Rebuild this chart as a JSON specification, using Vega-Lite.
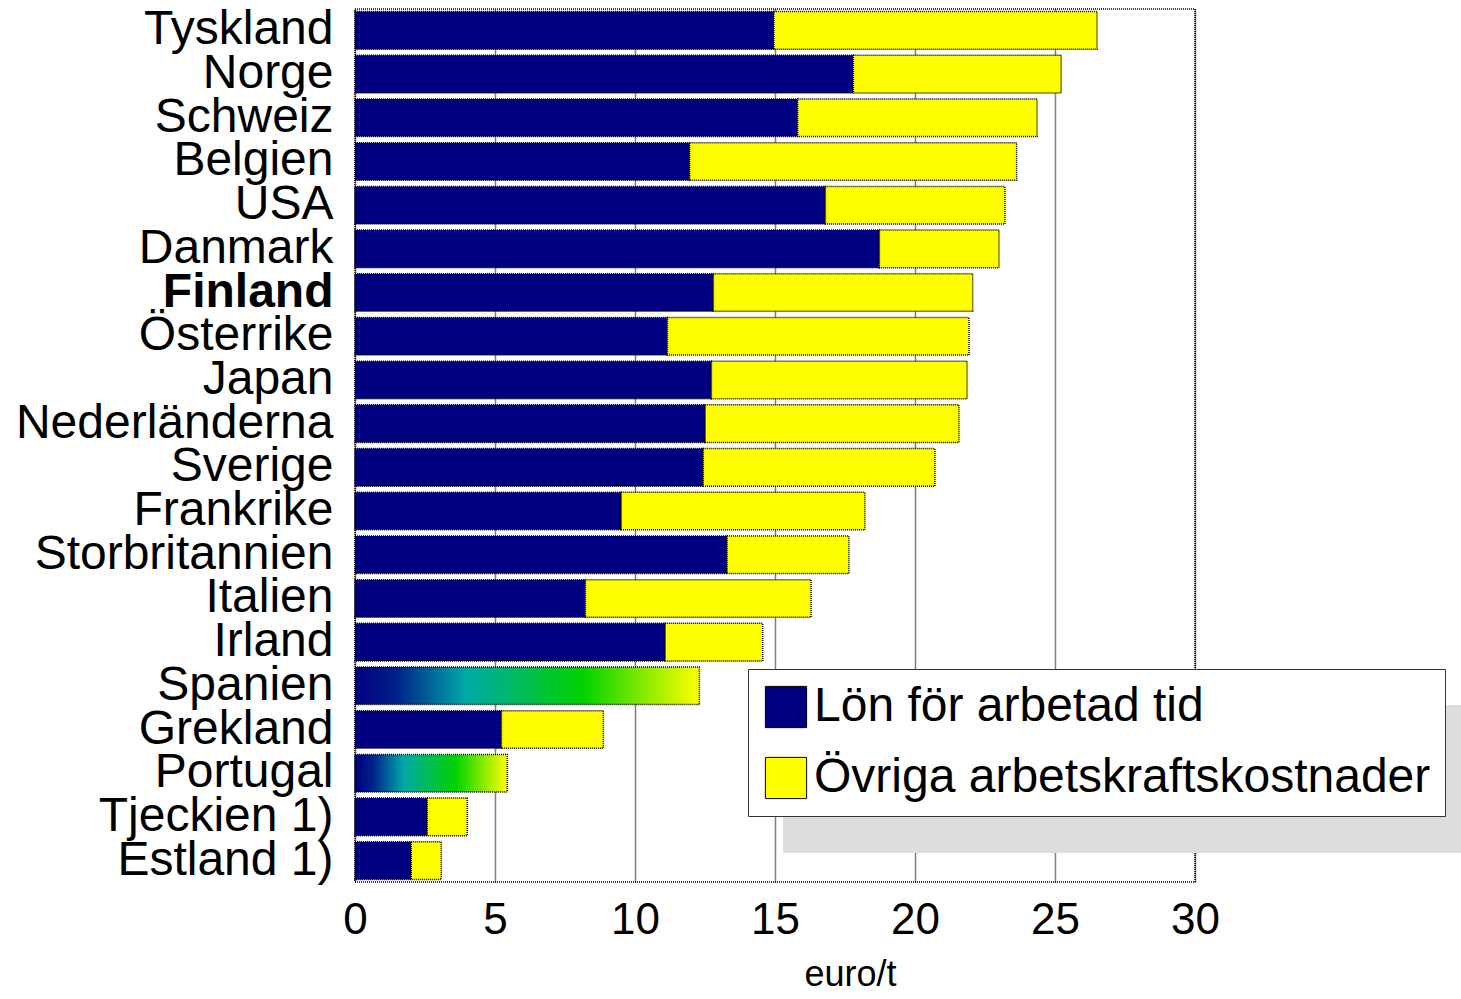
{
  "$schema": "https://vega.github.io/schema/vega-lite/v6.json",
  "width": 840,
  "height": 873,
  "autosize": {"type": "none"},
  "padding": {"left": 355, "top": 9, "right": 266, "bottom": 117},
  "background": "white",
  "config": {
    "font": "Liberation Sans",
    "view": {"stroke": "#000", "strokeDash": [1, 1], "strokeWidth": 1.5},
    "legend": {
      "title": null,
      "orient": "none",
      "labelFont": "Liberation Sans",
      "labelFontSize": 48,
      "labelLimit": 1000,
      "labelOffset": 4,
      "padding": 14,
      "rowPadding": 23,
      "symbolType": "square",
      "symbolSize": 1700
    }
  },
  "datasets": {
    "kostnader": [
      {"land": "Tyskland", "typ": "Lön för arbetad tid", "varde": 14.96},
      {"land": "Tyskland", "typ": "Övriga arbetskraftskostnader", "varde": 11.54},
      {"land": "Norge", "typ": "Lön för arbetad tid", "varde": 17.8},
      {"land": "Norge", "typ": "Övriga arbetskraftskostnader", "varde": 7.42},
      {"land": "Schweiz", "typ": "Lön för arbetad tid", "varde": 15.81},
      {"land": "Schweiz", "typ": "Övriga arbetskraftskostnader", "varde": 8.55},
      {"land": "Belgien", "typ": "Lön för arbetad tid", "varde": 11.95},
      {"land": "Belgien", "typ": "Övriga arbetskraftskostnader", "varde": 11.68},
      {"land": "USA", "typ": "Lön för arbetad tid", "varde": 16.8},
      {"land": "USA", "typ": "Övriga arbetskraftskostnader", "varde": 6.41},
      {"land": "Danmark", "typ": "Lön för arbetad tid", "varde": 18.73},
      {"land": "Danmark", "typ": "Övriga arbetskraftskostnader", "varde": 4.27},
      {"land": "Finland", "typ": "Lön för arbetad tid", "varde": 12.8},
      {"land": "Finland", "typ": "Övriga arbetskraftskostnader", "varde": 9.26},
      {"land": "Österrike", "typ": "Lön för arbetad tid", "varde": 11.16},
      {"land": "Österrike", "typ": "Övriga arbetskraftskostnader", "varde": 10.77},
      {"land": "Japan", "typ": "Lön för arbetad tid", "varde": 12.73},
      {"land": "Japan", "typ": "Övriga arbetskraftskostnader", "varde": 9.13},
      {"land": "Nederländerna", "typ": "Lön för arbetad tid", "varde": 12.51},
      {"land": "Nederländerna", "typ": "Övriga arbetskraftskostnader", "varde": 9.06},
      {"land": "Sverige", "typ": "Lön för arbetad tid", "varde": 12.44},
      {"land": "Sverige", "typ": "Övriga arbetskraftskostnader", "varde": 8.27},
      {"land": "Frankrike", "typ": "Lön för arbetad tid", "varde": 9.51},
      {"land": "Frankrike", "typ": "Övriga arbetskraftskostnader", "varde": 8.7},
      {"land": "Storbritannien", "typ": "Lön för arbetad tid", "varde": 13.29},
      {"land": "Storbritannien", "typ": "Övriga arbetskraftskostnader", "varde": 4.35},
      {"land": "Italien", "typ": "Lön för arbetad tid", "varde": 8.23},
      {"land": "Italien", "typ": "Övriga arbetskraftskostnader", "varde": 8.06},
      {"land": "Irland", "typ": "Lön för arbetad tid", "varde": 11.08},
      {"land": "Irland", "typ": "Övriga arbetskraftskostnader", "varde": 3.48},
      {"land": "Spanien", "typ": "Totalt", "varde": 12.3},
      {"land": "Grekland", "typ": "Lön för arbetad tid", "varde": 5.23},
      {"land": "Grekland", "typ": "Övriga arbetskraftskostnader", "varde": 3.64},
      {"land": "Portugal", "typ": "Totalt", "varde": 5.44},
      {"land": "Tjeckien 1)", "typ": "Lön för arbetad tid", "varde": 2.58},
      {"land": "Tjeckien 1)", "typ": "Övriga arbetskraftskostnader", "varde": 1.43},
      {"land": "Estland 1)", "typ": "Lön för arbetad tid", "varde": 2.01},
      {"land": "Estland 1)", "typ": "Övriga arbetskraftskostnader", "varde": 1.07}
    ]
  },
  "data": {"name": "kostnader"},
  "encoding": {
    "y": {
      "field": "land",
      "type": "nominal",
      "scale": {
        "domain": ["Tyskland", "Norge", "Schweiz", "Belgien", "USA", "Danmark", "Finland", "Österrike", "Japan", "Nederländerna", "Sverige", "Frankrike", "Storbritannien", "Italien", "Irland", "Spanien", "Grekland", "Portugal", "Tjeckien 1)", "Estland 1)"],
        "paddingInner": 0.14,
        "paddingOuter": 0.06
      },
      "axis": {
        "title": null,
        "domain": false,
        "ticks": false,
        "labelFont": "Liberation Sans",
        "labelFontSize": 48,
        "labelColor": "#000",
        "labelPadding": 22,
        "labelLimit": 400,
        "labelFontWeight": {"condition": {"test": "datum.value === 'Finland'", "value": "bold"}, "value": "normal"}
      }
    },
    "x": {
      "field": "varde",
      "type": "quantitative",
      "stack": "zero",
      "scale": {"domain": [0, 30], "nice": false},
      "axis": {
        "values": [0, 5, 10, 15, 20, 25, 30],
        "grid": true,
        "gridColor": "#000",
        "gridDash": [1, 1],
        "gridWidth": 1.5,
        "domain": false,
        "ticks": false,
        "labelFont": "Liberation Sans",
        "labelFontSize": 44,
        "labelColor": "#000",
        "labelPadding": 16,
        "labelOverlap": false,
        "labelFlush": false,
        "title": "euro/t",
        "titleFont": "Liberation Sans",
        "titleFontSize": 36,
        "titleFontWeight": "normal",
        "titleColor": "#000",
        "titleX": 495,
        "titleY": 103,
        "titleAlign": "center",
        "titleBaseline": "alphabetic"
      }
    }
  },
  "layer": [
    {
      "transform": [{"filter": "datum.typ !== 'Totalt'"}],
      "mark": {"type": "bar", "opacity": 0},
      "encoding": {
        "fill": {
          "field": "typ",
          "type": "nominal",
          "scale": {"domain": ["Övriga arbetskraftskostnader", "Lön för arbetad tid"], "range": ["#DDDDDD", "#DDDDDD"]},
          "legend": {
            "legendX": 428,
            "legendY": 696,
            "fillColor": "#DDDDDD",
            "strokeColor": "#DDDDDD",
            "labelColor": "#DDDDDD",
            "labelExpr": "''",
            "labelOffset": 628,
            "symbolOpacity": 0,
            "symbolStrokeColor": "#DDDDDD"
          }
        }
      }
    },
    {
      "transform": [{"filter": "datum.typ !== 'Totalt'"}],
      "mark": {"type": "bar", "stroke": "#000", "strokeWidth": 1.5, "strokeDash": [1, 1]},
      "encoding": {
        "color": {
          "field": "typ",
          "type": "nominal",
          "scale": {"domain": ["Lön för arbetad tid", "Övriga arbetskraftskostnader"], "range": ["#000080", "#FFFF00"]},
          "legend": {
            "legendX": 393,
            "legendY": 660,
            "fillColor": "#FFFFFF",
            "strokeColor": "#333333",
            "labelColor": "#000",
            "symbolOpacity": 1,
            "symbolStrokeColor": "#000",
            "symbolStrokeWidth": 1
          }
        },
        "order": {"field": "typ", "sort": "ascending"}
      }
    },
    {
      "transform": [{"filter": "datum.typ === 'Totalt'"}],
      "mark": {
        "type": "bar",
        "fill": {
          "gradient": "linear",
          "x1": 0, "y1": 0, "x2": 1, "y2": 0,
          "stops": [
            {"offset": 0, "color": "#000080"},
            {"offset": 0.12, "color": "#002288"},
            {"offset": 0.32, "color": "#00A8A8"},
            {"offset": 0.66, "color": "#00D200"},
            {"offset": 1, "color": "#FFFF00"}
          ]
        },
        "stroke": "#000",
        "strokeWidth": 1.5,
        "strokeDash": [1, 1]
      },
      "encoding": {}
    }
  ]
}
